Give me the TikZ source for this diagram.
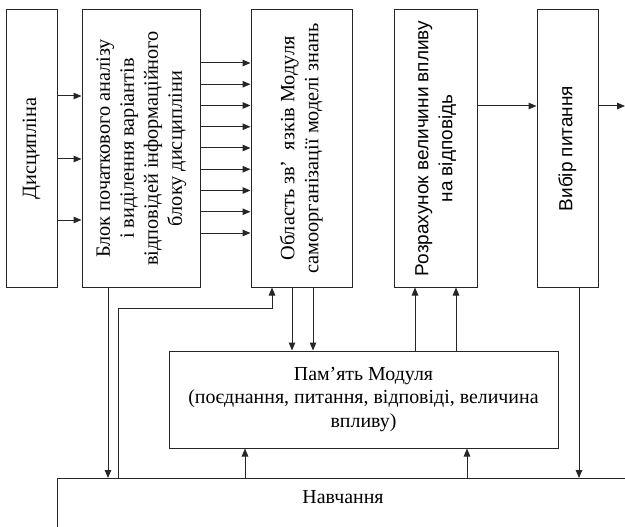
\documentclass[tikz,border=0pt]{standalone}
\usepackage{fontspec}
\setmainfont{Liberation Serif}
\newfontfamily\arialua{Liberation Sans}
\usepackage{graphicx}
\usetikzlibrary{arrows.meta}

\begin{document}
\begin{tikzpicture}[x=1pt,y=-1pt,
    box/.style={draw=black!85,line width=1pt,inner sep=0pt},
    txt/.style={font=\fontsize{19.9}{23.5}\selectfont},
    vtxt/.style={font=\fontsize{20.3}{24}\selectfont},
    stxt/.style={font=\fontsize{19}{24}\selectfont\arialua},
    arr/.style={-{Triangle[length=8pt,width=6.5pt]},line width=1pt,draw=black!85}]

\useasboundingbox (0,0) rectangle (625,527);
\clip (0,0) rectangle (625,527);

\node[box,vtxt,minimum width=51pt,minimum height=277pt] (disc) at (31.5,148.5)
    {\rotatebox{90}{Дисципліна}};
\node[box,vtxt,minimum width=118pt,minimum height=277pt] (blok) at (141,148.5)
    {\rotatebox{90}{\begin{tabular}{@{}c@{}}Блок початкового аналізу\\ і виділення варіантів\\ відповідей інформаційного\\ блоку дисципліни\end{tabular}}};
\node[box,vtxt,minimum width=101pt,minimum height=277pt] (obl) at (301.5,148.5)
    {\rotatebox{90}{\begin{tabular}{@{}c@{}}Область зв’~~язків Модуля\\ самоорганізації моделі знань\end{tabular}}};
\node[box,stxt,minimum width=83pt,minimum height=277pt] (rozr) at (435.5,148.5)
    {\rotatebox{90}{\begin{tabular}{@{}c@{}}Розрахунок величини впливу\\ на відповідь\end{tabular}}};
\node[box,stxt,minimum width=61pt,minimum height=277pt] (vybir) at (567.5,148.5)
    {\rotatebox{90}{Вибір питання}};
\coordinate (out) at (625,106);

\node[box,txt,align=center,minimum width=389pt,minimum height=97pt] (mem) at (363.5,399.5)
    {Пам’ять Модуля\\ (поєднання, питання, відповіді, величина\\ впливу)};

\node[box,anchor=north west,minimum width=650pt,minimum height=120pt] (navch) at (57,478) {};
\node[txt] (navchtxt) at (343,497) {Навчання};

% top row
\foreach \y in {96,159,220}
  \draw[arr] (disc.east |- 0,\y) -- (blok.west |- 0,\y);
\foreach \i in {0,...,8}
  \draw[arr] (blok.east |- 0,63+21.25*\i) -- (obl.west |- 0,63+21.25*\i);
\draw[arr] (rozr.east |- 0,106) -- (vybir.west |- 0,106);
\draw[arr] (vybir.east |- 0,106) -- (out);

% links to memory and training
\draw[arr] (blok.south -| 108,0) -- (navch.north -| 108,0);
\draw[arr] (navch.north -| 118,0) |- (272,308) -- (obl.south -| 272,0);
\foreach \x in {292,313}
  \draw[arr] (obl.south -| \x,0) -- (mem.north -| \x,0);
\foreach \x in {415,456}
  \draw[arr] (mem.north -| \x,0) -- (rozr.south -| \x,0);
\foreach \x in {245,467}
  \draw[arr] (navch.north -| \x,0) -- (mem.south -| \x,0);
\draw[arr] (vybir.south -| 579,0) -- (navch.north -| 579,0);

\end{tikzpicture}
\end{document}
